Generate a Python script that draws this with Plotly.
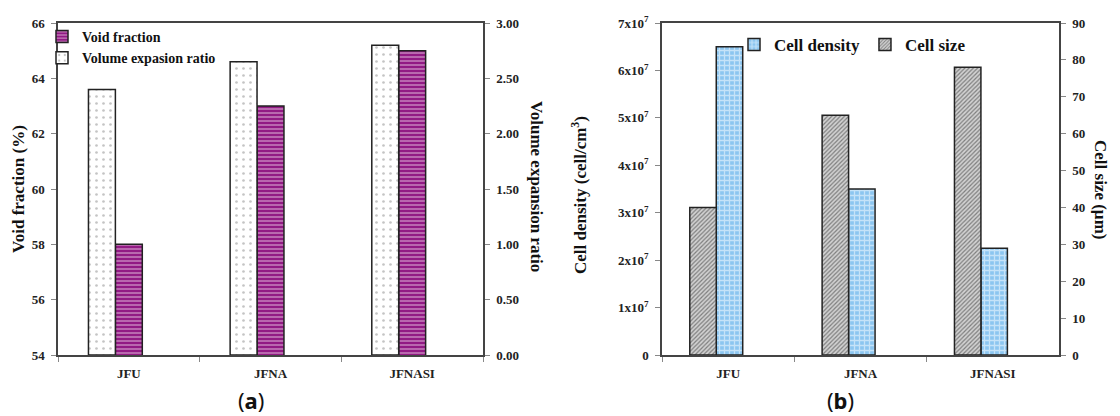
import plotly.graph_objects as go

# Sample names shared by both panels
categories = ["JFU", "JFNA", "JFNASI"]

# Panel (a)
void_fraction = [58, 63, 65]               # %
volume_expansion = [2.40, 2.65, 2.80]      # ratio

# Panel (b)
cell_density = [6.5e7, 3.5e7, 2.25e7]      # cell/cm3
cell_size = [40, 65, 78]                   # um

density_ticks = [0, 1e7, 2e7, 3e7, 4e7, 5e7, 6e7, 7e7]
density_labels = ["0"] + [f"{i}x10<sup>7</sup>" for i in range(1, 8)]

SERIF = "Liberation Serif"
W, H = 1120, 416


def px_x(p):
    return p / W


def px_y(p):
    return 1 - p / H


fig = go.Figure()

outline = dict(color="#222222", width=1.5)

# ---- panel (a) ----
fig.add_trace(go.Bar(
    x=categories, y=void_fraction, name="<b>Void fraction</b>",
    xaxis="x", yaxis="y", offset=-0.095, width=0.19,
    marker=dict(color="#921a84", line=outline,
                pattern=dict(shape="-", fgcolor="#f4dcef", bgcolor="#921a84",
                             size=4, solidity=0.4, fillmode="overlay")),
    legend="legend",
))
fig.add_trace(go.Bar(
    x=categories, y=volume_expansion, name="<b>Volume expasion ratio</b>",
    xaxis="x", yaxis="y2", offset=-0.285, width=0.19,
    marker=dict(color="white", line=outline,
                pattern=dict(shape=".", fgcolor="#8a8a8a", bgcolor="white",
                             size=7, solidity=0.12, fillmode="overlay")),
    legend="legend",
))

# ---- panel (b) ----
fig.add_trace(go.Bar(
    x=categories, y=cell_density, name="<b>Cell density</b>",
    xaxis="x2", yaxis="y3", offset=-0.09, width=0.2,
    marker=dict(color="#9fd0f2", line=outline,
                pattern=dict(shape="+", fgcolor="#ffffff", bgcolor="#8cc6f0",
                             size=5, solidity=0.45, fillmode="overlay")),
    legend="legend2",
))
fig.add_trace(go.Bar(
    x=categories, y=cell_size, name="<b>Cell size</b>",
    xaxis="x2", yaxis="y4", offset=-0.29, width=0.2,
    marker=dict(color="#bbbbbb", line=outline,
                pattern=dict(shape="/", fgcolor="#2a2a2a", bgcolor="#d2d2d2",
                             size=3, solidity=0.4, fillmode="overlay")),
    legend="legend2",
))

tickfont = dict(family=SERIF, size=13, color="#222222", weight="bold")
axis_common = dict(showline=True, linecolor="#444444", linewidth=1.5,
                   ticks="outside", ticklen=5, tickcolor="#888888",
                   showgrid=False, zeroline=False, tickfont=tickfont,
                   automargin=False)

dom_a = [px_x(58), px_x(483)]
dom_b = [px_x(662), px_x(1059)]
dom_y = [px_y(355), px_y(23)]

fig.update_layout(
    width=W, height=H,
    margin=dict(l=0, r=0, t=0, b=0, autoexpand=False),
    paper_bgcolor="white", plot_bgcolor="white",
    barmode="overlay",
    xaxis=dict(domain=dom_a, anchor="y", tickson="boundaries", mirror=True,
               ticklabelstandoff=6, **axis_common),
    yaxis=dict(domain=dom_y, anchor="x", range=[54, 66], dtick=2,
               tickformat="d", ticklabelstandoff=4, **axis_common),
    yaxis2=dict(overlaying="y", anchor="x", side="right", range=[0, 3],
                dtick=0.5, tickformat=".2f", ticklabelstandoff=4,
                **axis_common),
    xaxis2=dict(domain=dom_b, anchor="y3", tickson="boundaries", mirror=True,
                ticklabelstandoff=6, **axis_common),
    yaxis3=dict(domain=dom_y, anchor="x2", range=[0, 7e7],
                tickvals=density_ticks, ticktext=density_labels,
                ticklabelstandoff=4, **axis_common),
    yaxis4=dict(overlaying="y3", anchor="x2", side="right", range=[0, 90],
                dtick=10, ticklabelstandoff=4, **axis_common),
    legend=dict(x=px_x(42), y=px_y(21), xanchor="left", yanchor="top",
                orientation="v", bgcolor="rgba(0,0,0,0)",
                font=dict(family=SERIF, size=14, color="#111111"),
                itemwidth=30, tracegroupgap=0),
    legend2=dict(x=px_x(734), y=px_y(27), xanchor="left", yanchor="top",
                 orientation="h", bgcolor="rgba(0,0,0,0)",
                 font=dict(family=SERIF, size=17, color="#111111"),
                 itemwidth=30),
    showlegend=True,
)

title_font = dict(family=SERIF, size=17, color="#111111")
annotations = [
    dict(text="<b>Void fraction (%)</b>", x=px_x(18), y=px_y(189),
         textangle=-90, font=title_font),
    dict(text="<b>Volume expansion ratio</b>", x=px_x(537), y=px_y(186),
         textangle=90, font=title_font),
    dict(text="<b>Cell density (cell/cm<sup>3</sup>)</b>", x=px_x(579),
         y=px_y(195), textangle=-90, font=title_font),
    dict(text="<b>Cell size (µm)</b>", x=px_x(1101), y=px_y(189),
         textangle=90, font=title_font),
    dict(text="(<b>a</b>)", x=px_x(251), y=px_y(400),
         font=dict(family="Noto Sans", size=22, color="#111111")),
    dict(text="(<b>b</b>)", x=px_x(840), y=px_y(400),
         font=dict(family="Noto Sans", size=22, color="#111111")),
]
for a in annotations:
    a.update(xref="paper", yref="paper", showarrow=False,
             xanchor="center", yanchor="middle")
fig.update_layout(annotations=annotations)

fig.write_html("out.html")
